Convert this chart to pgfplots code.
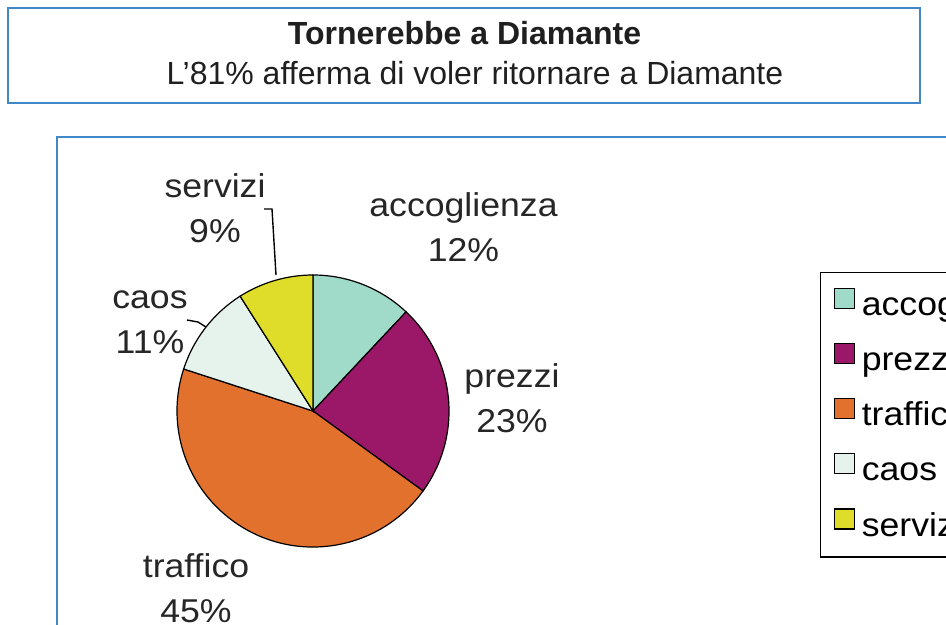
\documentclass[border=0pt]{standalone}
\usepackage{fontspec}
\setmainfont{Liberation Sans}
\newfontfamily\lblfont[FakeStretch=1.08]{Liberation Sans}
\usepackage{pgfplots}
\pgfplotsset{compat=1.18}

\definecolor{boxblue}{RGB}{66,136,200}
\definecolor{cAcc}{RGB}{160,218,200}
\definecolor{cPre}{RGB}{155,23,104}
\definecolor{cTra}{RGB}{226,113,46}
\definecolor{cCao}{RGB}{230,242,236}
\definecolor{cSer}{RGB}{224,220,42}

\newcommand\lblsize{\lblfont\fontsize{16.5}{20}\selectfont}
% one slice: cumulative start (%), share (%), colour; clockwise from 12 o'clock
\newcommand\slice[3]{%
  \filldraw[fill=#3, draw=black, line width=0.6pt] (axis cs:313,411)
    -- ++({90-3.6*#1}:68pt)
    arc[start angle={90-3.6*#1}, delta angle={-3.6*#2}, radius=68pt] -- cycle;}
% two-line label: x, baseline of first line, name, share
\newcommand\lbl[4]{%
  \node[anchor=base, text=black!85, font=\lblsize] at (axis cs:#1,#2) {#3};
  \node[anchor=base, text=black!85, font=\lblsize] at (axis cs:#1,#2+45) {#4};}

\begin{document}
\begin{tikzpicture}
\useasboundingbox (0,0) rectangle (473pt,312.5pt);
\clip (0,0) rectangle (473pt,312.5pt);
\begin{axis}[
    at={(0,0)}, anchor=south west,
    width=473pt, height=312.5pt, scale only axis,
    xmin=0, xmax=946, ymin=0, ymax=625, y dir=reverse,
    hide axis, clip=false,
    legend style={at={(0.8668,0.5648)}, anchor=north west,
        draw=black, line width=0.6pt, inner xsep=6.5pt, inner ysep=7.5pt,
        font=\lblsize, row sep=10.8pt,
        nodes={inner sep=0pt, text height=11pt, text depth=3pt}},
    legend cell align=left,
    legend image code/.code={%
        \draw[#1, line width=0.6pt] (0pt,-0.5pt) rectangle (10pt,9.5pt);
        \path (13.5pt,0pt);},
]
    % frames
    \draw[boxblue, line width=1pt] (axis cs:8,8) rectangle (axis cs:920,103);
    \draw[boxblue, line width=1pt] (axis cs:57,137) rectangle (axis cs:1200,900);
    \node[anchor=base, text=black!88, font=\bfseries\fontsize{16}{19}\selectfont]
        at (axis cs:464.5,45) {Tornerebbe a Diamante};
    \node[anchor=base, text=black!88, font=\fontsize{16}{19}\selectfont]
        at (axis cs:475,84) {L’81\% afferma di voler ritornare a Diamante};

    \slice{0}{12}{cAcc}
    \slice{12}{23}{cPre}
    \slice{35}{45}{cTra}
    \slice{80}{11}{cCao}
    \slice{91}{9}{cSer}

    % leader lines
    \draw[black, line width=0.7pt] (axis cs:264,209) -- (axis cs:272,209)
        -- (axis cs:276,275);
    \draw[black, line width=0.7pt] (axis cs:187,320) -- (axis cs:198,322)
        -- (axis cs:206,327);

    \lbl{463.5}{216}{accoglienza}{12\%}
    \lbl{512}{387}{prezzi}{23\%}
    \lbl{196}{577}{traffico}{45\%}
    \lbl{215}{197}{servizi}{9\%}
    \lbl{150}{308}{caos}{11\%}

    \addlegendimage{fill=cAcc, draw=black}
    \addlegendentry{accoglienza}
    \addlegendimage{fill=cPre, draw=black}
    \addlegendentry{prezzi}
    \addlegendimage{fill=cTra, draw=black}
    \addlegendentry{traffico}
    \addlegendimage{fill=cCao, draw=black}
    \addlegendentry{caos}
    \addlegendimage{fill=cSer, draw=black}
    \addlegendentry{servizi}
\end{axis}
\end{tikzpicture}
\end{document}
